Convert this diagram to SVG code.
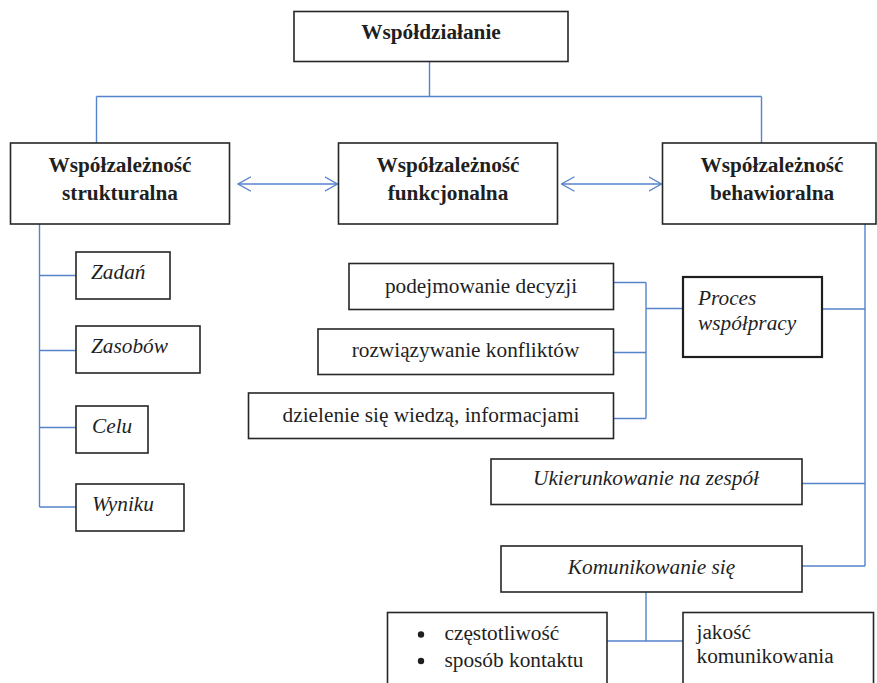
<svg xmlns="http://www.w3.org/2000/svg" width="877" height="683" viewBox="0 0 877 683">
  <style>
    .box { fill: #ffffff; stroke: #262626; stroke-width: 1.6; }
    .box-thick { fill: #ffffff; stroke: #1e1e1e; stroke-width: 2.2; }
    .link { fill: none; stroke: #5583cc; stroke-width: 1.4; }
    .t { font-family: "Liberation Serif", "Times New Roman", serif; font-size: 21.3px; fill: #1f1f1f; }
    .b { font-weight: bold; }
    .i { font-style: italic; }
    .c { text-anchor: middle; }
  </style>
  <defs>
    <marker id="chev" viewBox="0 0 14 16" refX="13" refY="8" markerWidth="14" markerHeight="16" markerUnits="userSpaceOnUse" orient="auto-start-reverse">
      <path d="M0,0.8 L13,8 L0,15.2" fill="none" stroke="#5583cc" stroke-width="1.3"/>
    </marker>
  </defs>

  <!-- connectors -->
  <g id="connectors">
    <!-- root to the three interdependence types -->
    <path class="link" d="M429.5,62 V96.5 M96.5,96.5 H761.5 M96.5,96.5 V143 M761.5,96.5 V143"/>
    <!-- mutual relations between the types -->
    <line class="link" x1="238" y1="184" x2="337.5" y2="184" marker-start="url(#chev)" marker-end="url(#chev)"/>
    <line class="link" x1="561.5" y1="184" x2="661.5" y2="184" marker-start="url(#chev)" marker-end="url(#chev)"/>
    <!-- structural branch -->
    <path class="link" d="M39.5,224 V507 M39.5,275.5 H76 M39.5,350.5 H76 M39.5,427.5 H76 M39.5,507 H76"/>
    <!-- functional activities feeding the collaboration process -->
    <path class="link" d="M613.5,282.5 H646 M613.5,352.5 H646 M613.5,418.5 H646 M646,282.5 V418.5 M646,308.5 H682.5"/>
    <!-- behavioural branch -->
    <path class="link" d="M865,224 V566 M822,309 H865 M802,483.5 H865 M802,566 H865"/>
    <!-- communication split -->
    <path class="link" d="M646,592 V641 M607,641 H683"/>
  </g>

  <g id="wspoldzialanie">
    <rect class="box" x="294" y="11.5" width="274" height="50"/>
    <text class="t b c" x="431" y="39">Współdziałanie</text>
  </g>

  <g id="wspolzaleznosc-strukturalna">
    <rect class="box" x="10.5" y="143" width="219" height="81"/>
    <text class="t b c" x="120" y="171.5">Współzależność</text>
    <text class="t b c" x="120" y="200">strukturalna</text>
  </g>

  <g id="wspolzaleznosc-funkcjonalna">
    <rect class="box" x="338.5" y="143" width="219" height="81"/>
    <text class="t b c" x="448" y="171.5">Współzależność</text>
    <text class="t b c" x="448" y="200">funkcjonalna</text>
  </g>

  <g id="wspolzaleznosc-behawioralna">
    <rect class="box" x="662.5" y="143" width="213.5" height="81"/>
    <text class="t b c" x="772" y="171.5">Współzależność</text>
    <text class="t b c" x="772" y="200">behawioralna</text>
  </g>

  <g id="zadan">
    <rect class="box" x="76" y="252" width="94" height="47"/>
    <text class="t i" x="91" y="279">Zadań</text>
  </g>
  <g id="zasobow">
    <rect class="box" x="76" y="326" width="124" height="47"/>
    <text class="t i" x="91" y="353">Zasobów</text>
  </g>
  <g id="celu">
    <rect class="box" x="76" y="406" width="72" height="47"/>
    <text class="t i" x="92" y="433">Celu</text>
  </g>
  <g id="wyniku">
    <rect class="box" x="76" y="484" width="108" height="47"/>
    <text class="t i" x="92" y="511">Wyniku</text>
  </g>

  <g id="podejmowanie-decyzji">
    <rect class="box" x="349" y="263.5" width="264.5" height="46"/>
    <text class="t c" x="481" y="293">podejmowanie decyzji</text>
  </g>
  <g id="rozwiazywanie-konfliktow">
    <rect class="box" x="318" y="329" width="295.5" height="45.5"/>
    <text class="t c" x="465.5" y="356.5">rozwiązywanie konfliktów</text>
  </g>
  <g id="dzielenie-sie-wiedza">
    <rect class="box" x="248.5" y="393" width="365" height="45.5"/>
    <text class="t c" x="431" y="421.5">dzielenie się wiedzą, informacjami</text>
  </g>

  <g id="proces-wspolpracy">
    <rect class="box-thick" x="683" y="277" width="139" height="80"/>
    <text class="t i" x="698" y="305">Proces</text>
    <text class="t i" x="698" y="330">współpracy</text>
  </g>

  <g id="ukierunkowanie-na-zespol">
    <rect class="box" x="491" y="459" width="311" height="45.5"/>
    <text class="t i c" x="646" y="485">Ukierunkowanie na zespół</text>
  </g>

  <g id="komunikowanie-sie">
    <rect class="box" x="501" y="546" width="301" height="46"/>
    <text class="t i c" x="651.5" y="573.5">Komunikowanie się</text>
  </g>

  <g id="czestotliwosc-sposob">
    <rect class="box" x="387.5" y="612.5" width="219.5" height="80"/>
    <circle cx="421" cy="634.5" r="3.2" fill="#1f1f1f"/>
    <circle cx="421" cy="661" r="3.2" fill="#1f1f1f"/>
    <text class="t" x="444.5" y="640">częstotliwość</text>
    <text class="t" x="444.5" y="666.5">sposób kontaktu</text>
  </g>

  <g id="jakosc-komunikowania">
    <rect class="box" x="683" y="612.5" width="190.5" height="80"/>
    <text class="t" x="696.5" y="639">jakość</text>
    <text class="t" x="696.5" y="663">komunikowania</text>
  </g>
</svg>
